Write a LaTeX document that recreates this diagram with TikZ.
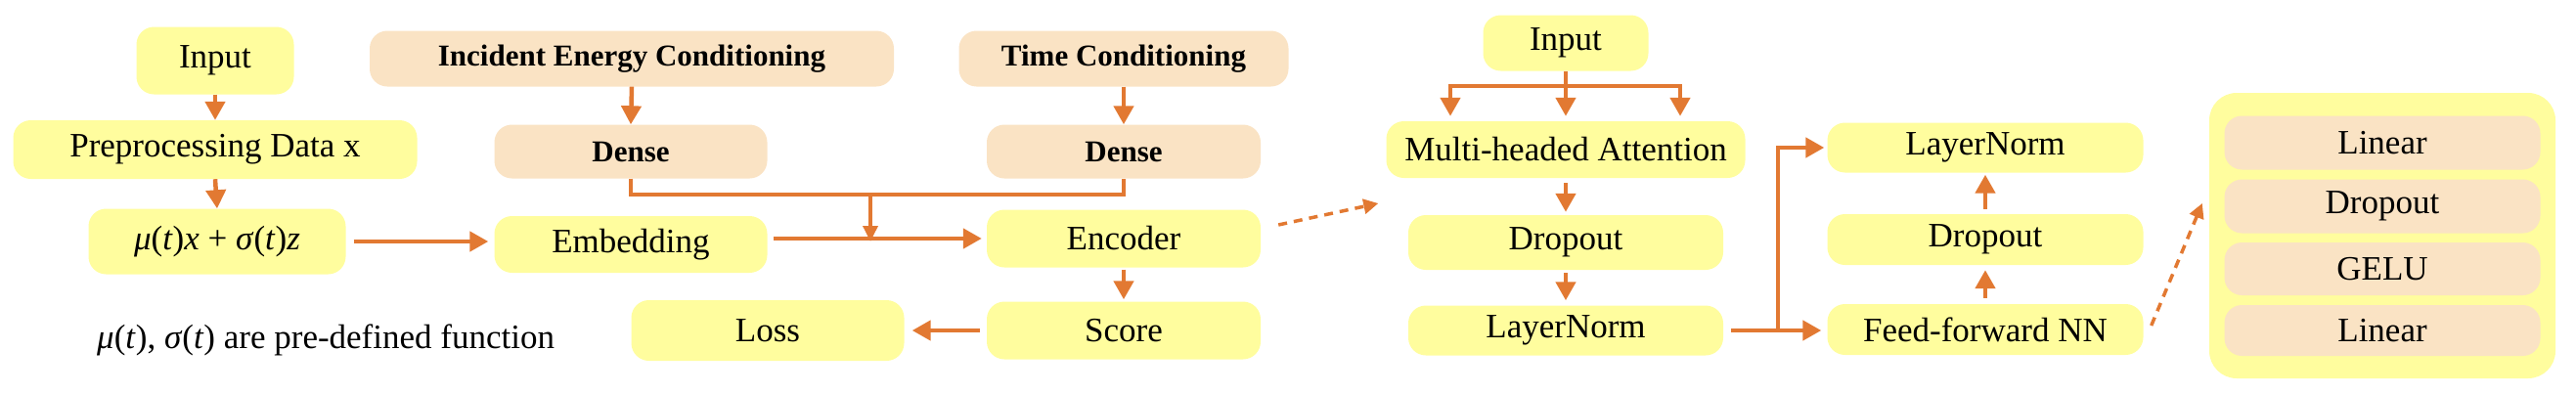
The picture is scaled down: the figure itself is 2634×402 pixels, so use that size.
\documentclass[tikz,border=0pt]{standalone}
\usepackage{fontspec}
\setmainfont{Liberation Serif}
\usetikzlibrary{arrows.meta}

\definecolor{boxyellow}{RGB}{255,253,158}
\definecolor{boxpeach}{RGB}{250,227,196}
\definecolor{flowline}{RGB}{226,121,50}

\tikzset{
  ybox/.style={fill=boxyellow, rounded corners=18pt, inner sep=0pt, font=\fontsize{35}{40}\selectfont},
  pbox/.style={fill=boxpeach, rounded corners=18pt, inner sep=0pt, font=\fontsize{31}{36}\selectfont\bfseries},
  flow/.style={draw=flowline, line width=4.5pt, -{Triangle[length=19pt,width=20pt]}},
  tieline/.style={draw=flowline, line width=3.5pt},
  hint/.style={draw=flowline, line width=3.5pt, dash pattern=on 9pt off 7pt, -{Triangle[length=15pt,width=15pt]}}
}

\begin{document}
\begin{tikzpicture}[x=1pt, y=1pt]

  \useasboundingbox (0,0) rectangle (2634,-402);

  \node[ybox, minimum width=161pt, minimum height=69pt] (in1) at (220,-62) {Input};
  \node[ybox, minimum width=413pt, minimum height=60pt] (prep) at (220,-153) {Preprocessing Data x};
  \node[ybox, minimum width=263pt, minimum height=67pt] (mix) at (222,-247)
    {\textit{μ}(\textit{t})\textit{x} + \textit{σ}(\textit{t})\textit{z}};
  \node[anchor=west, inner sep=0pt, font=\fontsize{35}{40}\selectfont] (note) at (99,-348)
    {\textit{μ}(\textit{t}), \textit{σ}(\textit{t}) are pre-defined function};

  \draw[flow] (in1.south) -- (prep.north);
  \draw[flow] (prep.south) -- (mix.north);

  \node[pbox, minimum width=536pt, minimum height=57pt] (inc) at (646,-60) {Incident Energy Conditioning};
  \node[pbox, minimum width=279pt, minimum height=55pt] (dense1) at (645,-155) {Dense};
  \node[pbox, minimum width=337pt, minimum height=57pt] (time) at (1149,-60) {Time Conditioning};
  \node[pbox, minimum width=280pt, minimum height=55pt] (dense2) at (1149,-155) {Dense};

  \node[ybox, minimum width=279pt, minimum height=58pt] (emb) at (645,-250) {Embedding};
  \node[ybox, minimum width=280pt, minimum height=59pt] (enc) at (1149,-244) {Encoder};
  \node[ybox, minimum width=280pt, minimum height=59pt] (score) at (1149,-338) {Score};
  \node[ybox, minimum width=279pt, minimum height=62pt] (loss) at (785,-338) {Loss};

  \draw[flow] (inc.south) -- (dense1.north);
  \draw[flow] (time.south) -- (dense2.north);
  \draw[flow, shorten <=8pt, shorten >=6pt] (mix.east) -- (emb.west |- mix.east);
  \draw[flow, shorten <=6pt, shorten >=5pt] (emb.east |- enc.west) -- (enc.west);

  \coordinate (merge) at (890,-199);
  \coordinate (merged) at (890,-247);
  \draw[tieline] (dense1.south) |- (merge) -| (dense2.south);
  \draw[tieline, -{Triangle[length=16pt,width=15pt]}] (merge) -- (merged);

  \draw[flow, shorten <=2pt, shorten >=2pt] (enc.south) -- (score.north);
  \draw[flow, shorten <=7pt, shorten >=8pt] (score.west) -- (loss.east |- score.west);

  \node[ybox, minimum width=169pt, minimum height=57pt] (in2) at (1601,-44) {Input};
  \node[ybox, minimum width=367pt, minimum height=58pt] (mha) at (1601,-153) {Multi-headed Attention};
  \node[ybox, minimum width=322pt, minimum height=56pt] (drop1) at (1601,-248) {Dropout};
  \node[ybox, minimum width=322pt, minimum height=51pt] (ln1) at (1601,-338) {LayerNorm};

  \draw[hint] ([shift={(18,14)}]enc.east) -- ([shift={(-8,-55)}]mha.west);

  \coordinate (fork) at (1601,-88);
  \draw[tieline] (in2.south) -- (fork);
  \draw[flow, shorten >=5pt] (fork) -- (mha.north);
  \draw[flow, shorten >=5pt] (fork) -| ([xshift=-118pt]mha.north);
  \draw[flow, shorten >=5pt] (fork) -| ([xshift=117pt]mha.north);
  \draw[flow, shorten <=5pt, shorten >=3pt] (mha.south) -- (drop1.north);
  \draw[flow, shorten <=3pt, shorten >=5pt] (drop1.south) -- (ln1.north);

  \node[ybox, minimum width=323pt, minimum height=51pt] (ln2) at (2030,-151) {LayerNorm};
  \node[ybox, minimum width=323pt, minimum height=52pt] (drop2) at (2030,-245) {Dropout};
  \node[ybox, minimum width=323pt, minimum height=52pt] (ff) at (2030,-337) {Feed-forward NN};

  \coordinate (skip) at (1818,-338);
  \draw[flow, shorten <=8pt, shorten >=6pt] (ln1.east) -- (ff.west |- ln1.east);
  \draw[flow, shorten >=3pt] (skip) |- (ln2.west);
  \draw[flow, shorten <=6pt, shorten >=5pt] (ff.north) -- (drop2.south);
  \draw[flow, shorten <=5pt, shorten >=2pt] (drop2.north) -- (ln2.south);

  \node[ybox, rounded corners=28pt, minimum width=354pt, minimum height=292pt] (mlp) at (2436,-241) {};
  \node[pbox, font=\fontsize{35}{40}\selectfont, minimum width=323pt, minimum height=55pt] (lin1) at (2436,-146) {Linear};
  \node[pbox, font=\fontsize{35}{40}\selectfont, minimum width=323pt, minimum height=55pt] (drop3) at (2436,-211) {Dropout};
  \node[pbox, font=\fontsize{35}{40}\selectfont, minimum width=323pt, minimum height=54pt] (gelu) at (2436,-275) {GELU};
  \node[pbox, font=\fontsize{35}{40}\selectfont, minimum width=323pt, minimum height=52pt] (lin2) at (2436,-338) {Linear};

  \draw[hint] ([shift={(8,4)}]ff.east) -- ([shift={(-7,33)}]mlp.west);

\end{tikzpicture}
\end{document}
